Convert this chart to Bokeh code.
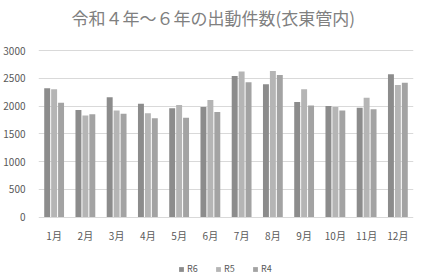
from bokeh.plotting import figure
from bokeh.models import ColumnDataSource, FactorRange, Range1d, Legend, LegendItem, Label
from bokeh.transform import dodge
from bokeh.embed import file_html
from bokeh.resources import INLINE

months = ["1月", "2月", "3月", "4月", "5月", "6月", "7月", "8月", "9月", "10月", "11月", "12月"]
r6 = [2320, 1930, 2160, 2040, 1960, 1980, 2540, 2390, 2070, 2000, 1970, 2570]
r5 = [2300, 1830, 1920, 1870, 2020, 2110, 2620, 2630, 2300, 1980, 2150, 2380]
r4 = [2060, 1850, 1860, 1780, 1790, 1890, 2430, 2560, 2010, 1920, 1940, 2420]
series_names = ["R6", "R5", "R4"]
y_ticks = [0, 500, 1000, 1500, 2000, 2500, 3000]
title_text = "令和４年～６年の出動件数(衣東管内)"

FONT = "Noto Sans CJK JP"
src = ColumnDataSource(dict(m=months, R6=r6, R5=r5, R4=r4))

# frame spans the whole canvas height so title and legend sit inside it
p = figure(width=422, height=279, x_range=FactorRange(*months), y_range=Range1d(-1126, 3901),
           output_backend="svg", toolbar_location=None, title=None,
           min_border_left=35, min_border_right=9, min_border_top=0, min_border_bottom=0)
p.outline_line_color = None
p.background_fill_color = "white"
p.border_fill_color = "white"

colors = ["#8c8c8c", "#b5b5b5", "#a3a3a3"]
offsets = [-0.222, 0.0, 0.222]
renderers = []
for name, c, off in zip(series_names, colors, offsets):
    r = p.vbar(x=dodge("m", off, range=p.x_range), top=name, width=0.19, source=src,
               fill_color=c, line_color=None)
    renderers.append(r)

p.xgrid.grid_line_color = None
p.ygrid.grid_line_color = "#d9d9d9"
p.ygrid.grid_line_width = 1
p.yaxis.ticker = y_ticks

for ax in (p.xaxis[0], p.yaxis[0]):
    ax.axis_line_color = None
    ax.major_tick_line_color = None
    ax.minor_tick_line_color = None
    ax.major_label_text_font = FONT
    ax.major_label_text_font_size = "10px"
    ax.major_label_text_color = "#595959"
p.yaxis.major_label_standoff = 7
p.xaxis.major_label_standoff = 5
p.xaxis.fixed_location = 0

legend = Legend(items=[LegendItem(label=n, renderers=[r]) for n, r in zip(series_names, renderers)],
                orientation="horizontal", location=(140, 4),
                label_text_font=FONT, label_text_font_size="9px", label_text_color="#595959",
                glyph_width=6, glyph_height=6, label_standoff=3, spacing=8,
                border_line_color=None, background_fill_alpha=0, padding=2, margin=0)
p.add_layout(legend, "center")

title = Label(x=5.59, y=3596, text=title_text, text_align="center", text_baseline="middle",
              text_font=FONT, text_font_size="17px", text_color="#808080")
p.add_layout(title)

open("out.html", "w").write(file_html(p, INLINE))
